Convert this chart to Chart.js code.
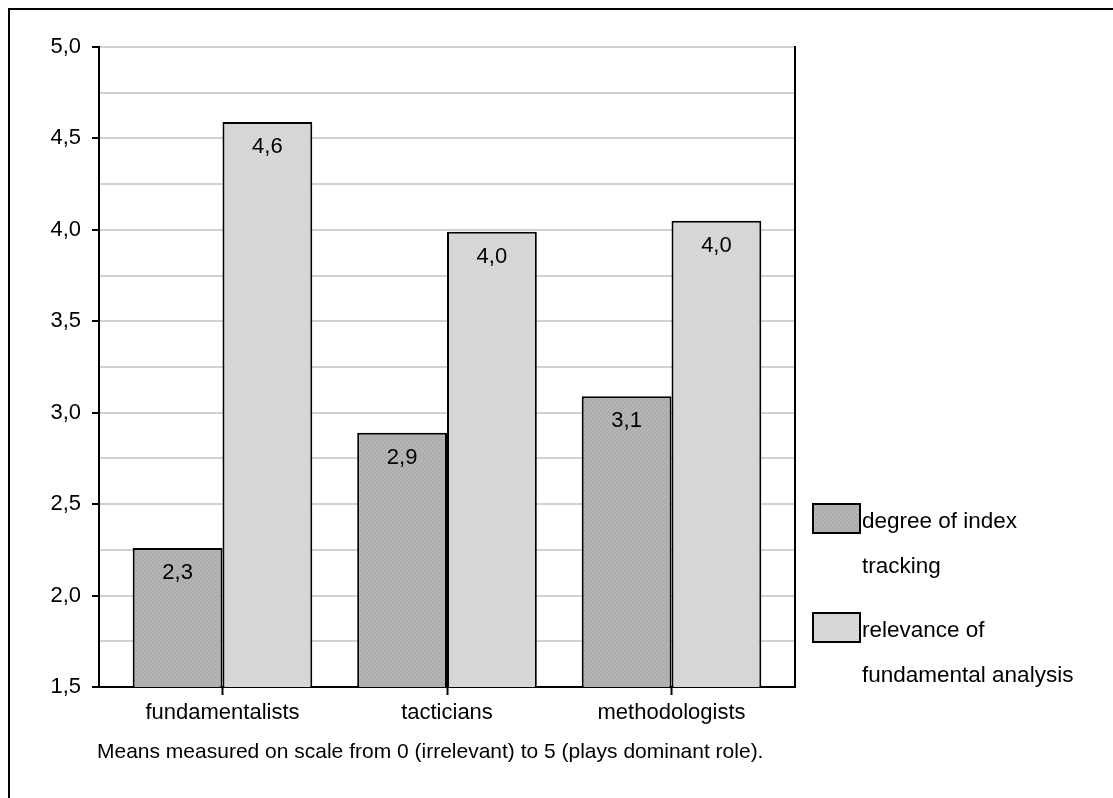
<!DOCTYPE html>
<html>
<head>
<meta charset="utf-8">
<script src="https://cdn.jsdelivr.net/npm/chart.js@4.4.1/dist/chart.umd.min.js"></script>
<style>
  html, body { margin: 0; padding: 0; background: #fff; }
  #wrap { position: relative; width: 1113px; height: 798px; }
  #frame { position: absolute; left: 8px; top: 8px; right: -4px; bottom: -4px;
           border-left: 2px solid #000; border-top: 2px solid #000; }
  canvas { position: absolute; left: 0; top: 0; }
</style>
</head>
<body>
<div id="wrap">
  <div id="frame"></div>
  <canvas id="chart" width="1113" height="798"></canvas>
</div>
<script>
// groups and series
const categories = ["fundamentalists", "tacticians", "methodologists"];
const seriesNames = [["degree of index", "tracking"], ["relevance of", "fundamental analysis"]];
const indexTracking = [2.26, 2.89, 3.09];
const fundamentalAnalysis = [4.59, 3.99, 4.05];
const trackingLabels = ["2,3", "2,9", "3,1"];
const analysisLabels = ["4,6", "4,0", "4,0"];
const footnote = "Means measured on scale from 0 (irrelevant) to 5 (plays dominant role).";

const FONT = "'Liberation Sans', Arial, sans-serif";

// fine diagonal hatch like the original fill
function hatch(base, line) {
    const c = document.createElement("canvas");
    c.width = 4; c.height = 4;
    const g = c.getContext("2d");
    g.fillStyle = base;
    g.fillRect(0, 0, 4, 4);
    g.strokeStyle = line;
    g.lineWidth = 1;
    g.beginPath();
    g.moveTo(0, 4); g.lineTo(4, 0);
    g.moveTo(-1, 1); g.lineTo(1, -1);
    g.moveTo(3, 5); g.lineTo(5, 3);
    g.stroke();
    return g.createPattern(c, "repeat");
}

const ctx = document.getElementById("chart").getContext("2d");
const darkFill = hatch("#b4b4b4", "#a6a6a6");
const lightFill = hatch("#d9d9d9", "#cfcfcf");

// value labels inside the bar tops
const barLabels = {
    id: "barLabels",
    afterDatasetsDraw(chart) {
        const c = chart.ctx;
        const texts = [trackingLabels, analysisLabels];
        c.save();
        c.font = "22px " + FONT;
        c.fillStyle = "#000";
        c.textAlign = "center";
        c.textBaseline = "middle";
        chart.data.datasets.forEach((ds, i) => {
            chart.getDatasetMeta(i).data.forEach((bar, j) => {
                c.fillText(texts[i][j], bar.x, bar.y + 25);
            });
        });
        c.restore();
    }
};

// legend on the right and the note under the chart
const extras = {
    id: "extras",
    afterDraw(chart) {
        const c = chart.ctx;
        const a = chart.chartArea;
        c.save();
        const fills = [darkFill, lightFill];
        const tops = [504, 613];
        c.font = "22.5px " + FONT;
        c.textBaseline = "middle";
        tops.forEach((y, i) => {
            c.fillStyle = fills[i];
            c.fillRect(813, y, 47, 29);
            c.strokeStyle = "#000";
            c.lineWidth = 2;
            c.strokeRect(813, y, 47, 29);
            c.fillStyle = "#000";
            c.fillText(seriesNames[i][0], 862, y + 18);
            c.fillText(seriesNames[i][1], 862, y + 63);
        });
        c.font = "21px " + FONT;
        c.fillText(footnote, a.left - 2, 752);
        c.restore();
    }
};

new Chart(ctx, {
    type: "bar",
    data: {
        datasets: [
            {
                label: seriesNames[0].join(" "),
                data: indexTracking.map((v, i) => ({ x: i, y: v })),
                backgroundColor: darkFill,
                borderColor: "#000",
                borderWidth: 2,
                borderSkipped: false
            },
            {
                label: seriesNames[1].join(" "),
                data: fundamentalAnalysis.map((v, i) => ({ x: i, y: v })),
                backgroundColor: lightFill,
                borderColor: "#000",
                borderWidth: 2,
                borderSkipped: false
            }
        ]
    },
    options: {
        responsive: false,
        animation: false,
        events: [],
        categoryPercentage: 0.8,
        barPercentage: 1.0,
        layout: { padding: { top: 47, right: 318, left: 0, bottom: 0 } },
        plugins: {
            legend: { display: false },
            tooltip: { enabled: false }
        },
        scales: {
            x: {
                type: "linear",
                offset: false,
                min: -0.55,
                max: 2.55,
                afterBuildTicks: s => { s.ticks = categories.map((_, i) => ({ value: i })); },
                afterFit: s => { s.height = 111; },
                ticks: {
                    callback: v => categories[v],
                    font: { family: FONT, size: 22 },
                    color: "#000",
                    padding: 5,
                    maxRotation: 0
                },
                grid: { offset: false, drawOnChartArea: false, tickLength: 8, tickColor: "#000", tickWidth: 2 },
                border: { color: "#000", width: 2 }
            },
            y: {
                min: 1.5,
                max: 5,
                afterBuildTicks: s => {
                    const t = [];
                    for (let k = 0; k <= 14; k++) t.push({ value: 1.5 + k * 0.25 });
                    s.ticks = t;
                },
                afterFit: s => { s.width = 99; },
                ticks: {
                    callback: v => (Math.round(v * 100) % 50 === 0 ? v.toFixed(1).replace(".", ",") : ""),
                    font: { family: FONT, size: 22 },
                    color: "#000",
                    padding: 11
                },
                grid: {
                    color: "#d2d2d2",
                    lineWidth: 2,
                    tickLength: 7,
                    tickWidth: 2,
                    tickColor: c => (Math.round(c.tick.value * 100) % 50 === 0 ? "#000" : "rgba(0,0,0,0)")
                },
                border: { color: "#000", width: 2 }
            },
            y2: {
                position: "right",
                min: 1.5,
                max: 5,
                ticks: { display: false },
                grid: { display: false },
                afterFit: s => { s.width = 0; },
                border: { color: "#000", width: 2 }
            }
        }
    },
    plugins: [barLabels, extras]
});
</script>
</body>
</html>
